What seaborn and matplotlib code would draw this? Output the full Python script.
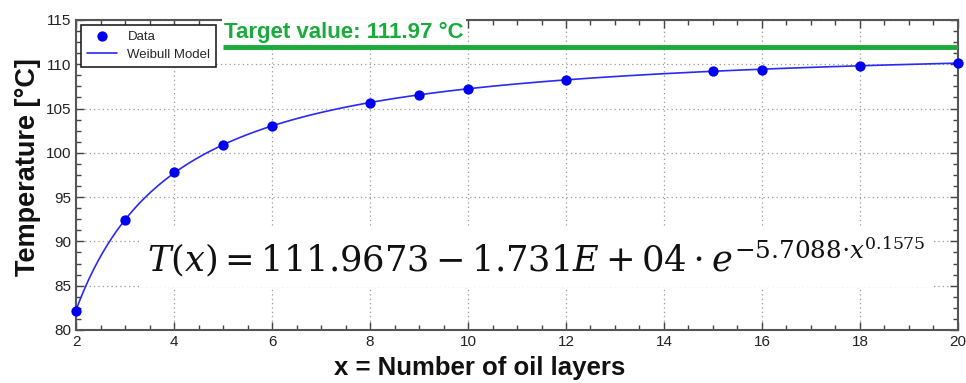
import numpy as np
import pandas as pd
import seaborn as sns
import matplotlib
matplotlib.use("Agg")
import matplotlib.pyplot as plt
from matplotlib.ticker import MultipleLocator

# Measured temperatures per number of oil layers
layers = [2, 3, 4, 5, 6, 8, 9, 10, 12, 15, 16, 18, 20]
temperature = [82.2, 92.4, 97.8, 100.9, 103.0, 105.6, 106.5, 107.2, 108.2, 109.2, 109.4, 109.8, 110.2]

# Fitted Weibull model parameters: T(x) = a - b * exp(-k * x**d)
a_param = 111.9673
b_param = 1.731e4
k_param = 5.7088
d_param = 0.1575
target_value = 111.97

sns.set_theme(style="ticks")
plt.rcParams["font.family"] = ["Liberation Sans", "DejaVu Sans"]
plt.rcParams["mathtext.fontset"] = "dejavuserif"

fig = plt.figure(figsize=(9.66, 3.83), dpi=100)
ax = fig.add_axes([0.0787, 0.1384, 0.9130, 0.8094])

data = pd.DataFrame({"x": layers, "T": temperature})
x_fit = np.linspace(min(layers), max(layers), 400)
model = pd.DataFrame({"x": x_fit,
                      "T": a_param - b_param * np.exp(-k_param * x_fit ** d_param)})

blue = "#0000f0"
sns.lineplot(data=model, x="x", y="T", ax=ax, color="#2a2af5", linewidth=1.2,
             label="Weibull Model", zorder=3)
sns.scatterplot(data=data, x="x", y="T", ax=ax, color=blue, s=55,
                edgecolor=blue, linewidth=0, label="Data", zorder=4, clip_on=False)

# Target line
green = "#1aab3c"
ax.plot([5, 20], [target_value, target_value], color=green, linewidth=3.5,
        zorder=5, solid_capstyle="butt")
ax.text(5.02, 112.45, "Target value: 111.97 °C", color=green, fontsize=16,
        fontweight="bold", ha="left", va="bottom", zorder=6,
        bbox=dict(facecolor="white", edgecolor="none", pad=1.5))

ax.set_xlim(2, 20)
ax.set_ylim(80, 115)
ax.xaxis.set_major_locator(MultipleLocator(2))
ax.xaxis.set_minor_locator(MultipleLocator(0.5))
ax.yaxis.set_major_locator(MultipleLocator(5))
ax.yaxis.set_minor_locator(MultipleLocator(1.25))

ax.grid(True, which="major", linestyle=(0, (1, 2.5)), color="#9a9a9a", linewidth=0.9)
ax.set_axisbelow(True)

ax.tick_params(which="both", direction="in", top=True, right=True, colors="#444444",
               labelcolor="#222222", labelsize=11)
ax.tick_params(which="major", length=6, width=1)
ax.tick_params(which="minor", length=3.5, width=1)
for sp in ax.spines.values():
    sp.set_color("#555555")
    sp.set_linewidth(1.5)

ax.set_xlabel("x = Number of oil layers", fontsize=18.5, fontweight="bold",
              color="#111111")
ax.xaxis.set_label_coords(0.458, -0.085)
ax.set_ylabel("Temperature [°C]", fontsize=19.5, fontweight="bold",
              color="#111111")
ax.yaxis.set_label_coords(-0.040, 0.524)

handles, labels = ax.get_legend_handles_labels()
order = [labels.index("Data"), labels.index("Weibull Model")]
leg = ax.legend([handles[i] for i in order], [labels[i] for i in order],
                loc="upper left", fontsize=9.5, frameon=True, fancybox=False,
                edgecolor="#222222", framealpha=1, borderpad=0.45,
                handlelength=2.3, labelspacing=0.45, borderaxespad=0.35)
leg.get_frame().set_linewidth(1.2)
leg.set_zorder(10)

ax.text(3.45, 88.3,
        r"$T(x) = 111.9673 - 1.731E + 04 \cdot e^{-5.7088{\cdot}x^{0.1575}}$",
        fontsize=25.4, color="#111111", ha="left", va="center", zorder=6,
        bbox=dict(facecolor="white", edgecolor="none", pad=6))

fig.savefig("out.png", dpi=100)
